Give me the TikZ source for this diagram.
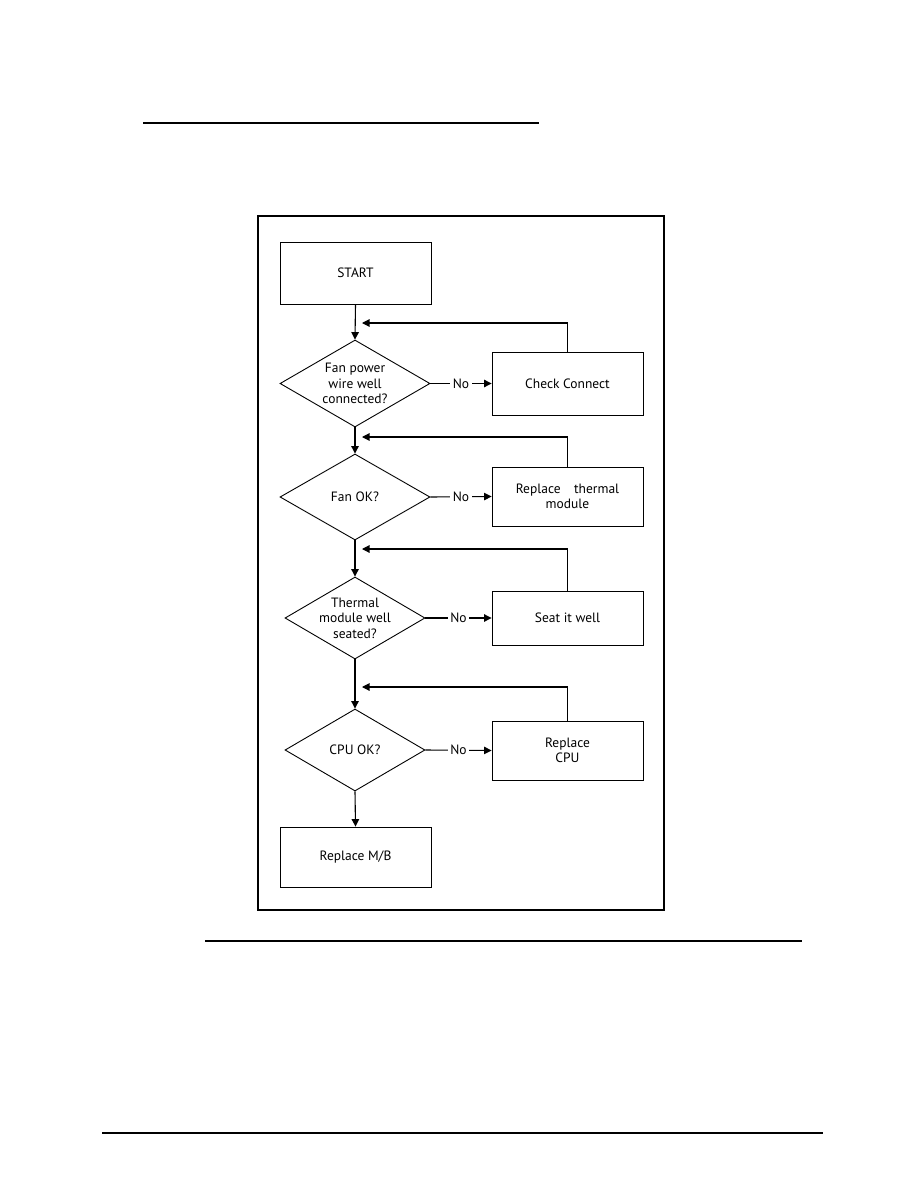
\documentclass[tikz,border=0pt]{standalone}
\usepackage{fontspec}
\setmainfont{PT Sans}
\usetikzlibrary{shapes.geometric,arrows.meta}
\begin{document}
\begin{tikzpicture}[x=1pt,y=-1pt,
  box/.style={draw,line width=0.9pt,rectangle,inner sep=0pt,minimum width=151pt},
  dia/.style={draw,line width=0.9pt,diamond,inner sep=0pt},
  txt/.style={align=center,font=\fontsize{13.5}{15.5}\selectfont,inner sep=0pt},
  conn/.style={line width=1.1pt,-{Triangle[length=7.5pt,width=7.5pt]}},
  nolab/.style={fill=white,inner sep=2.5pt,font=\fontsize{13.5}{15}\selectfont}]
\useasboundingbox (0,0) rectangle (918,1188);
% page rules
\draw[line width=2pt] (143,123) -- (539,123);
\draw[line width=1.3pt] (205,941) -- (802,941);
\draw[line width=1.3pt] (102,1133) -- (823,1133);
% frame
\draw[line width=2pt] (258,216) rectangle (664,910);
% boxes
\node[box,minimum height=62pt] (start) at (355.5,273) {};
\node[txt] at (start) {START};
\node[box,minimum height=63pt] (c1) at (567.5,383.5) {};
\node[txt] at (c1) {Check Connect};
\node[box,minimum height=59pt] (c2) at (567.5,496.5) {};
\node[txt] at (c2) {Replace\quad thermal\\module};
\node[box,minimum height=54pt] (c3) at (567.5,618) {};
\node[txt] at (c3) {Seat it well};
\node[box,minimum height=59pt] (c4) at (567.5,750.5) {};
\node[txt] at (c4) {Replace\\CPU};
\node[box,minimum height=60pt] (mb) at (355.5,857) {};
\node[txt] at (mb) {Replace M/B};
% diamonds
\node[dia,minimum width=150pt,minimum height=87pt] (d1) at (355,383.5) {};
\node[txt] at (d1) {Fan power\\wire well\\connected?};
\node[dia,minimum width=150pt,minimum height=86pt] (d2) at (355,497) {};
\node[txt] at (d2) {Fan OK?};
\node[dia,minimum width=140pt,minimum height=82pt] (d3) at (355,618) {};
\node[txt] at (d3) {Thermal\\module well\\seated?};
\node[dia,minimum width=140pt,minimum height=82pt] (d4) at (355,750) {};
\node[txt] at (d4) {CPU OK?};
% main flow
\draw[conn] (start.south) -- (d1.north);
\draw[conn] (d1.south) -- (d2.north);
\draw[conn] (d2.south) -- (d3.north);
\draw[conn] (d3.south) -- (d4.north);
\draw[conn] (d4.south) -- (mb.north);
% No branches
\draw[conn] (d1.east) -- node[nolab] {No} (c1.west);
\draw[conn] (d2.east) -- node[nolab] {No} (c2.west);
\draw[conn] (d3.east) -- node[nolab] {No} (c3.west);
\draw[conn] (d4.east) -- node[nolab] {No} (c4.west);
% feedback loops
\coordinate (f1) at (362,323);
\coordinate (f2) at (362,437);
\coordinate (f3) at (362,549);
\coordinate (f4) at (362,687);
\draw[conn] (c1.north) |- (f1);
\draw[conn] (c2.north) |- (f2);
\draw[conn] (c3.north) |- (f3);
\draw[conn] (c4.north) |- (f4);
\end{tikzpicture}
\end{document}
